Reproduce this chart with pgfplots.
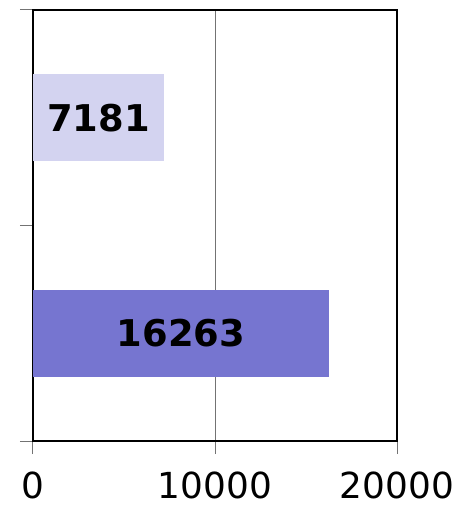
\documentclass[border=0pt]{standalone}
\usepackage{fontspec}
\setmainfont{DejaVu Sans}
\usepackage{pgfplots}
\pgfplotsset{compat=1.18}
\definecolor{barlight}{RGB}{211,211,240}
\definecolor{bardark}{RGB}{118,117,208}
\begin{document}
\begin{tikzpicture}
\begin{axis}[
  scale only axis,
  width=364bp, height=431bp,
  xmin=0, xmax=20000, ymin=0, ymax=2,
  xtick={0,10000,20000},
  ytick={0,1,2},
  yticklabels={},
  xtick pos=bottom, ytick pos=left,
  scaled x ticks=false,
  /pgf/number format/1000 sep={},
  /pgf/number format/assume math mode=true,
  xticklabel style={font=\fontsize{36}{40}\selectfont, inner sep=0pt, yshift=-18bp},
  tick align=outside,
  major tick length=13bp,
  tick style={gray!90!black, line width=1bp},
  xmajorgrids,
  grid style={gray!90!black, line width=0.9bp},
  axis line style={black, line width=1.3bp},
]
\addplot[xbar, bar width=0.4035, bar shift=0pt, fill=barlight, draw=none] coordinates {(7181,1.5)};
\addplot[xbar, bar width=0.4035, bar shift=0pt, fill=bardark, draw=none] coordinates {(16263,0.5)};
\addplot[only marks, mark=none, point meta=explicit symbolic,
  nodes near coords,
  every node near coord/.append style={anchor=center, font=\fontsize{37}{40}\selectfont\bfseries, text=black}]
  table[meta=label] {
x y label
3590.5 1.5 7181
8131.5 0.5 16263
};
\end{axis}
\pgfresetboundingbox
\path[use as bounding box] ([xshift=-33bp,yshift=-66bp]current axis.south west) rectangle ([xshift=62bp,yshift=10bp]current axis.north east);
\end{tikzpicture}
\end{document}
